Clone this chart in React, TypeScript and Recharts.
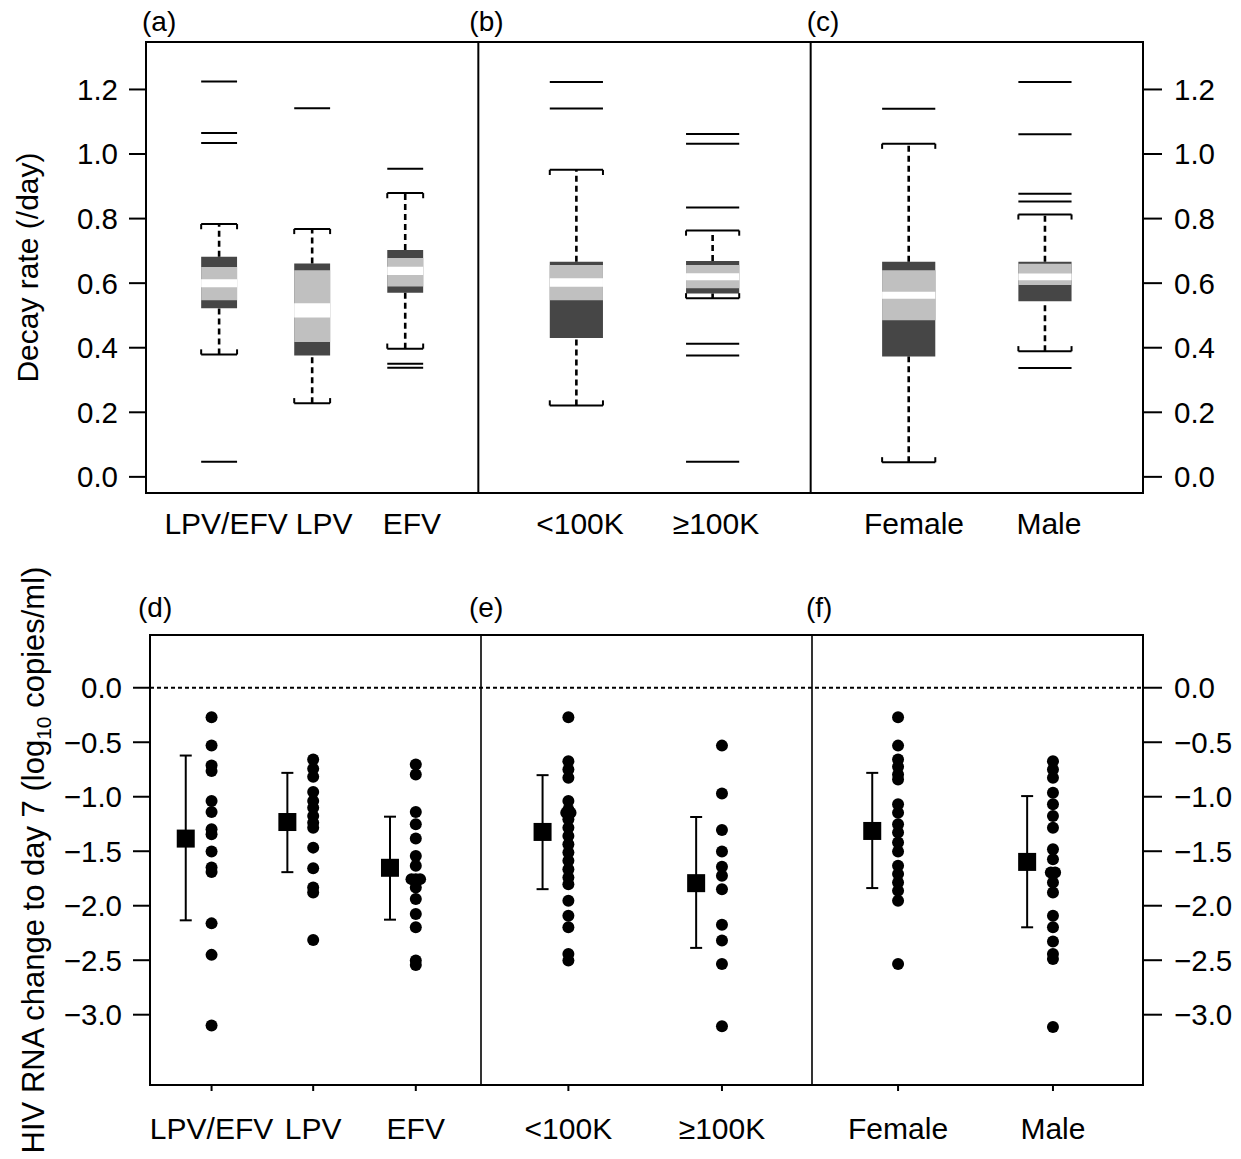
import React from 'react';
import {
  ComposedChart,
  XAxis,
  YAxis,
  Scatter,
  ErrorBar,
  ReferenceArea,
  ReferenceLine,
} from 'recharts';

const FONT = '"Liberation Sans", Arial, Helvetica, sans-serif';

const groups = ['LPV/EFV', 'LPV', 'EFV', '<100K', '\u2265100K', 'Female', 'Male'];

// (a)-(c): first-phase decay rate (/day)
const decayQ1 = [0.522, 0.376, 0.57, 0.43, 0.568, 0.373, 0.544];
const decayQ3 = [0.682, 0.661, 0.703, 0.666, 0.669, 0.666, 0.666];
const decayNotchLo = [0.547, 0.418, 0.59, 0.547, 0.584, 0.485, 0.594];
const decayNotchHi = [0.65, 0.64, 0.678, 0.656, 0.656, 0.64, 0.66];
const decayMidLo = [0.587, 0.494, 0.625, 0.589, 0.609, 0.552, 0.609];
const decayMidHi = [0.612, 0.538, 0.651, 0.615, 0.631, 0.573, 0.63];
const decayWhiskerLo = [0.379, 0.228, 0.397, 0.221, 0.553, 0.045, 0.389];
const decayWhiskerHi = [0.783, 0.768, 0.879, 0.951, 0.763, 1.032, 0.813];
const decayOutliers = [
  [1.225, 1.065, 1.034, 0.047],
  [1.142],
  [0.954, 0.35, 0.338],
  [1.223, 1.141],
  [1.062, 1.032, 0.834, 0.412, 0.376, 0.047],
  [1.14],
  [1.223, 1.061, 0.877, 0.853, 0.337],
];
const decayTicks = [0, 0.2, 0.4, 0.6, 0.8, 1.0, 1.2];

// (d)-(f): change in HIV RNA to day 7 (log10 copies/ml)
const changeMean = [-1.384, -1.232, -1.652, -1.323, -1.793, -1.314, -1.598];
const changeLow = [-2.134, -1.692, -2.128, -1.848, -2.387, -1.838, -2.198];
const changeHigh = [-0.622, -0.781, -1.183, -0.802, -1.186, -0.781, -0.994];
const changeIndividuals = [
  [-0.271, -0.53, -0.713, -0.765, -1.04, -1.14, -1.299, -1.345, -1.503, -1.65, -1.69, -2.162, -2.451, -3.098],
  [-0.659, -0.744, -0.817, -0.957, -1.04, -1.101, -1.177, -1.238, -1.284, -1.467, -1.656, -1.832, -1.878, -2.314],
  [-0.704, -0.796, -1.14, -1.253, -1.384, -1.543, -1.634, -1.756, -1.756, -1.756, -1.832, -1.939, -2.076, -2.198, -2.503, -2.543],
  [-0.271, -0.674, -0.75, -0.826, -1.04, -1.117, -1.146, -1.146, -1.207, -1.284, -1.36, -1.436, -1.512, -1.588, -1.665, -1.741, -1.802, -1.954, -2.092, -2.198, -2.442, -2.503],
  [-0.531, -0.97, -1.305, -1.503, -1.643, -1.726, -1.848, -2.174, -2.32, -2.534, -3.107],
  [-0.271, -0.531, -0.659, -0.725, -0.796, -0.841, -1.07, -1.146, -1.253, -1.329, -1.421, -1.503, -1.634, -1.71, -1.787, -1.863, -1.954, -2.534],
  [-0.674, -0.75, -0.826, -0.963, -1.07, -1.177, -1.284, -1.482, -1.573, -1.695, -1.695, -1.787, -1.878, -2.092, -2.198, -2.329, -2.442, -2.488, -3.113],
];
const changeTicks = [0, -0.5, -1.0, -1.5, -2.0, -2.5, -3.0];

// layout: each panel spans one unit of the x axis
const boxSlots = [0.22, 0.5, 0.78, 1.295, 1.705, 2.295, 2.705];
const boxLabelSlots = [0.241, 0.536, 0.8, 1.306, 1.715, 2.311, 2.717];
const boxHalf = [0.054, 0.054, 0.054, 0.08, 0.08, 0.08, 0.08];
const dotSlots = [0.147, 0.454, 0.764, 1.225, 1.689, 2.221, 2.689];
const PAIR_GAP = 0.039;
const TIE_STEP = 0.013;
const CAP_TICK = 0.016;

const DARK = '#464646';
const LIGHT = '#c0c0c0';

const decayDomain: [number, number] = [-0.05, 1.347];
const changeDomain: [number, number] = [-3.645, 0.484];

const tickFont = { fontSize: 29.5, fill: '#000', fontFamily: FONT };
const catFont = { fontSize: 30, fill: '#000', fontFamily: FONT };

const fmtChange = (v: number) => (v === 0 ? '0.0' : '\u2212' + Math.abs(v).toFixed(1));

function PanelTag(props: any) {
  const { viewBox, tag, dx, dy } = props;
  if (!viewBox) return null;
  return (
    <text x={viewBox.x + dx} y={viewBox.y + dy} fontSize={28} fontFamily={FONT} fill="#000">
      {tag}
    </text>
  );
}

function DecayTitle(props: any) {
  const { viewBox } = props;
  if (!viewBox) return null;
  const cy = viewBox.y + viewBox.height / 2;
  return (
    <text
      transform={`translate(${viewBox.x + 38},${cy}) rotate(-90)`}
      textAnchor="middle"
      fontSize={30}
      fontFamily={FONT}
      fill="#000"
    >
      Decay rate (/day)
    </text>
  );
}

function ChangeTitle(props: any) {
  const { viewBox } = props;
  if (!viewBox) return null;
  const cy = viewBox.y + viewBox.height / 2;
  return (
    <text
      transform={`translate(${viewBox.x + 44},${cy}) rotate(-90)`}
      textAnchor="middle"
      fontSize={31}
      fontFamily={FONT}
      fill="#000"
    >
      <tspan>HIV RNA change to day 7 (log</tspan>
      <tspan dy={7} fontSize={21}>10</tspan>
      <tspan dy={-7}> copies/ml)</tspan>
    </text>
  );
}

// box, notch shading, whiskers, caps and outliers for one group
function boxElements(i: number) {
  const p = boxSlots[i];
  const hw = boxHalf[i];
  const lo = decayWhiskerLo[i];
  const hi = decayWhiskerHi[i];
  const line = { yAxisId: 'l', stroke: '#000', strokeWidth: 2, ifOverflow: 'visible' as const };
  const dash = { ...line, strokeWidth: 2.6, strokeDasharray: '6 4' };
  const area = { yAxisId: 'l', fillOpacity: 1, stroke: 'none', ifOverflow: 'visible' as const };
  return [
    <ReferenceLine key={`wl${i}`} {...dash} segment={[{ x: p, y: lo }, { x: p, y: decayQ1[i] }]} />,
    <ReferenceLine key={`wh${i}`} {...dash} segment={[{ x: p, y: decayQ3[i] }, { x: p, y: hi }]} />,
    <ReferenceLine key={`cl${i}`} {...line} segment={[{ x: p - hw, y: lo }, { x: p + hw, y: lo }]} />,
    <ReferenceLine key={`cll${i}`} {...line} segment={[{ x: p - hw, y: lo }, { x: p - hw, y: lo + CAP_TICK }]} />,
    <ReferenceLine key={`clr${i}`} {...line} segment={[{ x: p + hw, y: lo }, { x: p + hw, y: lo + CAP_TICK }]} />,
    <ReferenceLine key={`ch${i}`} {...line} segment={[{ x: p - hw, y: hi }, { x: p + hw, y: hi }]} />,
    <ReferenceLine key={`chl${i}`} {...line} segment={[{ x: p - hw, y: hi }, { x: p - hw, y: hi - CAP_TICK }]} />,
    <ReferenceLine key={`chr${i}`} {...line} segment={[{ x: p + hw, y: hi }, { x: p + hw, y: hi - CAP_TICK }]} />,
    <ReferenceArea key={`bq${i}`} {...area} x1={p - hw} x2={p + hw} y1={decayQ1[i]} y2={decayQ3[i]} fill={DARK} />,
    <ReferenceArea key={`bn${i}`} {...area} x1={p - hw} x2={p + hw} y1={decayNotchLo[i]} y2={decayNotchHi[i]} fill={LIGHT} />,
    <ReferenceArea key={`bm${i}`} {...area} x1={p - hw} x2={p + hw} y1={decayMidLo[i]} y2={decayMidHi[i]} fill="#fff" />,
    ...decayOutliers[i].map((v, k) => (
      <ReferenceLine key={`o${i}-${k}`} {...line} segment={[{ x: p - hw, y: v }, { x: p + hw, y: v }]} />
    )),
  ];
}

// tied values sit side by side
function spread(values: number[], center: number) {
  const counts = new Map<number, number>();
  values.forEach((v) => counts.set(v, (counts.get(v) ?? 0) + 1));
  const seen = new Map<number, number>();
  return values.map((v) => {
    const n = counts.get(v) ?? 1;
    const k = seen.get(v) ?? 0;
    seen.set(v, k + 1);
    return { x: center + (k - (n - 1) / 2) * TIE_STEP, y: v };
  });
}

const dotData = changeIndividuals.flatMap((vals, i) => spread(vals, dotSlots[i] + PAIR_GAP));
const meanData = changeMean.map((m, i) => ({
  x: dotSlots[i] - PAIR_GAP,
  y: m,
  err: [m - changeLow[i], changeHigh[i] - m],
}));
const dotTicks = dotSlots.map((s) => s + PAIR_GAP);

function DecayChart() {
  return (
    <ComposedChart width={1241} height={560} margin={{ top: 42, right: 0, bottom: 0, left: 0 }}>
      <XAxis
        type="number"
        dataKey="x"
        domain={[0, 3]}
        allowDataOverflow
        ticks={boxLabelSlots}
        interval={0}
        tickFormatter={(v: number) => groups[boxLabelSlots.indexOf(v)] ?? ''}
        tickLine={false}
        axisLine={false}
        tickSize={0}
        tickMargin={20}
        height={67}
        tick={catFont}
      />
      <YAxis
        yAxisId="l"
        type="number"
        dataKey="y"
        domain={decayDomain}
        allowDataOverflow
        ticks={decayTicks}
        interval={0}
        tickFormatter={(v: number) => v.toFixed(1)}
        width={146}
        axisLine={false}
        tickLine={{ stroke: '#000', strokeWidth: 2 }}
        tickSize={17}
        tickMargin={11}
        tick={tickFont}
        label={<DecayTitle />}
      />
      <YAxis
        yAxisId="r"
        orientation="right"
        type="number"
        dataKey="y"
        domain={decayDomain}
        allowDataOverflow
        ticks={decayTicks}
        interval={0}
        tickFormatter={(v: number) => v.toFixed(1)}
        width={98}
        axisLine={false}
        tickLine={{ stroke: '#000', strokeWidth: 2 }}
        tickSize={19}
        tickMargin={12}
        tick={tickFont}
      />
      {boxSlots.map((_, i) => boxElements(i))}
      <ReferenceArea yAxisId="l" x1={0} x2={3} y1={decayDomain[0]} y2={decayDomain[1]} fill="none" stroke="#000" strokeWidth={2} ifOverflow="visible" />
      {['(a)', '(b)', '(c)'].map((tag, i) => (
        <ReferenceLine
          key={tag}
          yAxisId="l"
          x={i}
          stroke="#000"
          strokeWidth={2}
          ifOverflow="visible"
          label={<PanelTag tag={tag} dx={i === 1 ? -9 : -4} dy={-11} />}
        />
      ))}
    </ComposedChart>
  );
}

function ChangeChart() {
  return (
    <ComposedChart width={1241} height={599} margin={{ top: 75, right: 0, bottom: 0, left: 0 }}>
      <XAxis
        type="number"
        dataKey="x"
        domain={[0, 3]}
        allowDataOverflow
        ticks={dotTicks}
        interval={0}
        tickFormatter={(v: number) => groups[dotTicks.indexOf(v)] ?? ''}
        tickLine={{ stroke: '#000', strokeWidth: 2 }}
        axisLine={false}
        tickSize={6}
        tickMargin={27}
        height={74}
        tick={catFont}
      />
      <YAxis
        yAxisId="l"
        type="number"
        dataKey="y"
        domain={changeDomain}
        allowDataOverflow
        ticks={changeTicks}
        interval={0}
        tickFormatter={fmtChange}
        width={150}
        axisLine={false}
        tickLine={{ stroke: '#000', strokeWidth: 2 }}
        tickSize={17}
        tickMargin={11}
        tick={tickFont}
        label={<ChangeTitle />}
      />
      <YAxis
        yAxisId="r"
        orientation="right"
        type="number"
        dataKey="y"
        domain={changeDomain}
        allowDataOverflow
        ticks={changeTicks}
        interval={0}
        tickFormatter={fmtChange}
        width={98}
        axisLine={false}
        tickLine={{ stroke: '#000', strokeWidth: 2 }}
        tickSize={19}
        tickMargin={12}
        tick={tickFont}
      />
      <ReferenceLine yAxisId="l" y={0} stroke="#000" strokeWidth={2} strokeDasharray="4 3" />
      <ReferenceArea yAxisId="l" x1={0} x2={3} y1={changeDomain[0]} y2={changeDomain[1]} fill="none" stroke="#000" strokeWidth={2} ifOverflow="visible" />
      {['(d)', '(e)', '(f)'].map((tag, i) => (
        <ReferenceLine
          key={tag}
          yAxisId="l"
          x={i}
          stroke="#000"
          strokeWidth={1.6}
          ifOverflow="visible"
          label={<PanelTag tag={tag} dx={i === 2 ? -6 : -12} dy={-18} />}
        />
      ))}
      <Scatter
        yAxisId="l"
        data={dotData}
        isAnimationActive={false}
        shape={(p: any) => <circle cx={p.cx} cy={p.cy} r={6} fill="#000" />}
      />
      <Scatter
        yAxisId="l"
        data={meanData}
        isAnimationActive={false}
        shape={(p: any) => <rect x={p.cx - 9} y={p.cy - 9} width={18} height={18} fill="#000" />}
      >
        <ErrorBar dataKey="err" direction="y" width={6} stroke="#000" strokeWidth={2} isAnimationActive={false} />
      </Scatter>
    </ComposedChart>
  );
}

export default function App() {
  return (
    <div style={{ position: 'absolute', left: 0, top: 0, width: 1241, height: 1159, background: '#fff' }}>
      <div style={{ position: 'absolute', left: 0, top: 0 }}>
        <DecayChart />
      </div>
      <div style={{ position: 'absolute', left: 0, top: 560 }}>
        <ChangeChart />
      </div>
    </div>
  );
}
